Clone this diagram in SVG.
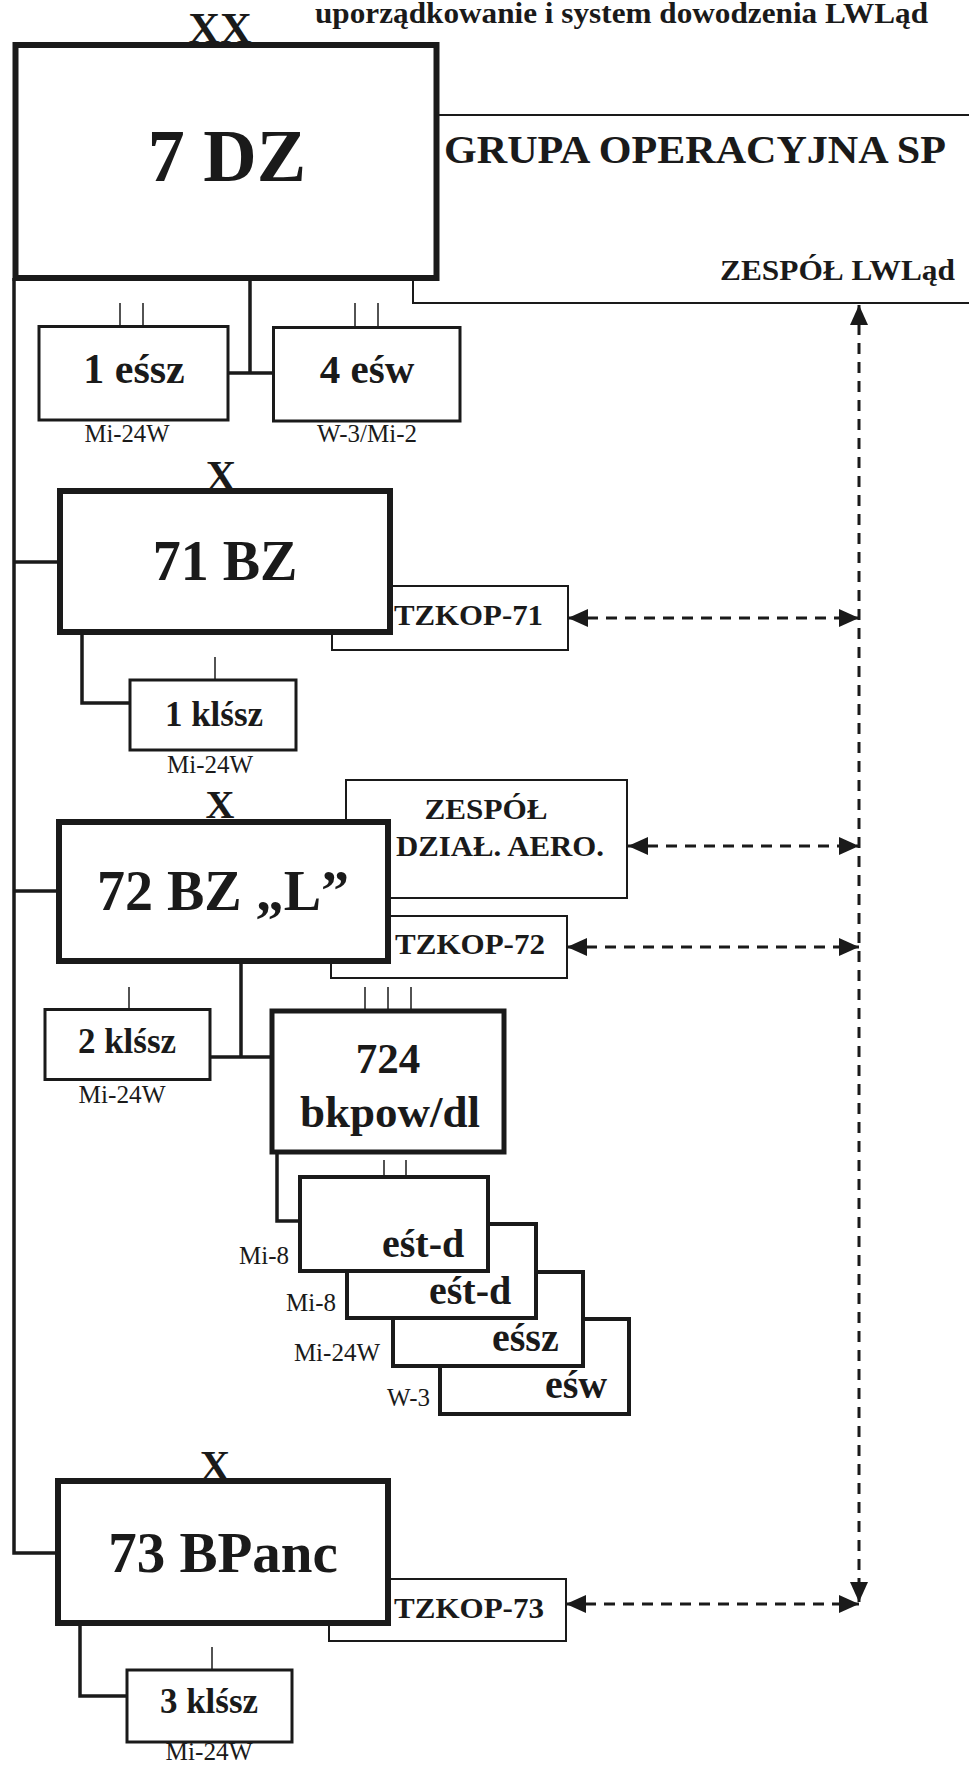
<svg xmlns="http://www.w3.org/2000/svg" width="969" height="1766" viewBox="0 0 969 1766">
<style>
.big{fill:#fff;stroke:#1a1a1a;stroke-width:6}
.box{fill:#fff;stroke:#1a1a1a;stroke-width:3}
.stack{fill:#fff;stroke:#1a1a1a;stroke-width:4}
.tz{fill:#fff;stroke:#1a1a1a;stroke-width:2}
.conn{fill:none;stroke:#1a1a1a;stroke-width:3.5}
.tick{fill:none;stroke:#1a1a1a;stroke-width:1.5}
.dash{fill:none;stroke:#1a1a1a;stroke-width:3;stroke-dasharray:11 8}
text{font-family:"Liberation Serif","Times New Roman",serif;fill:#1a1a1a;font-weight:bold}
.lbl{font-weight:normal;font-size:25px}
.c{text-anchor:middle}
.e{text-anchor:end}
</style>
<defs>
<marker id="ah" markerUnits="userSpaceOnUse" markerWidth="20" markerHeight="20" viewBox="0 0 20 20" refX="20" refY="10" orient="auto-start-reverse">
<path d="M0,1 L20,10 L0,19 Z" fill="#1a1a1a" stroke="none"/>
</marker>
</defs>
<rect width="969" height="1766" fill="#fff"/>
<text x="315" y="23" font-size="29" textLength="613" lengthAdjust="spacingAndGlyphs">uporządkowanie i system dowodzenia LWLąd</text>

<g id="connectors">
<path class="conn" d="M14,278 V1553 H58"/>
<path class="conn" d="M14,562 H60"/>
<path class="conn" d="M14,891 H59"/>
<path class="conn" d="M250,278 V373 M228,373 H273"/>
<path class="conn" d="M82,632 V703 H130"/>
<path class="conn" d="M241,961 V1057 M210,1057 H272"/>
<path class="conn" d="M277,1152 V1221 H300"/>
<path class="conn" d="M80,1623 V1696 H127"/>
<line class="dash" x1="859" y1="305" x2="859" y2="1602" marker-start="url(#ah)" marker-end="url(#ah)"/>
<line class="dash" x1="568" y1="618" x2="859" y2="618" marker-start="url(#ah)" marker-end="url(#ah)"/>
<line class="dash" x1="628" y1="846" x2="859" y2="846" marker-start="url(#ah)" marker-end="url(#ah)"/>
<line class="dash" x1="567" y1="947" x2="859" y2="947" marker-start="url(#ah)" marker-end="url(#ah)"/>
<line class="dash" x1="566" y1="1604" x2="859" y2="1604" marker-start="url(#ah)" marker-end="url(#ah)"/>
</g>

<g id="grupa">
<rect class="tz" x="413" y="115" width="620" height="188"/>
<text x="444" y="163" font-size="40" textLength="502" lengthAdjust="spacingAndGlyphs">GRUPA OPERACYJNA SP</text>
<text x="720" y="280" font-size="29" textLength="235" lengthAdjust="spacingAndGlyphs">ZESPÓŁ LWLąd</text>
</g>

<g id="dz7">
<rect class="big" x="15.5" y="45" width="421" height="233"/>
<text class="c" x="220" y="43" font-size="44">XX</text>
<text class="c" x="227" y="181" font-size="74">7 DZ</text>
</g>

<g id="essz1">
<line class="tick" x1="120" y1="303" x2="120" y2="326"/>
<line class="tick" x1="143" y1="303" x2="143" y2="326"/>
<rect class="box" x="39" y="326.5" width="189" height="93.5"/>
<text class="c" x="134" y="383" font-size="42">1 eśsz</text>
<text class="c lbl" x="127" y="442" textLength="85" lengthAdjust="spacingAndGlyphs">Mi-24W</text>
</g>

<g id="esw4">
<line class="tick" x1="355" y1="303" x2="355" y2="327"/>
<line class="tick" x1="378" y1="303" x2="378" y2="327"/>
<rect class="box" x="273.5" y="327.5" width="186.5" height="93.5"/>
<text class="c" x="367" y="383" font-size="41">4 eśw</text>
<text class="c lbl" x="367" y="442" textLength="100" lengthAdjust="spacingAndGlyphs">W-3/Mi-2</text>
</g>

<g id="tzkop71">
<rect class="tz" x="332" y="586" width="236" height="64"/>
<text x="394" y="625" font-size="30" textLength="149" lengthAdjust="spacingAndGlyphs">TZKOP-71</text>
</g>

<g id="bz71">
<rect class="big" x="60" y="491" width="330" height="141"/>
<text class="c" x="221" y="490" font-size="42">X</text>
<text class="c" x="225" y="580" font-size="56">71 BZ</text>
</g>

<g id="klssz1">
<line class="tick" x1="215" y1="657" x2="215" y2="680"/>
<rect class="box" x="130" y="680" width="166" height="70"/>
<text class="c" x="214" y="726" font-size="35">1 klśsz</text>
<text class="c lbl" x="210" y="773" textLength="86" lengthAdjust="spacingAndGlyphs">Mi-24W</text>
</g>

<g id="zespol-aero">
<rect class="tz" x="346" y="780" width="281" height="118"/>
<text class="c" x="486" y="819" font-size="30" textLength="123" lengthAdjust="spacingAndGlyphs">ZESPÓŁ</text>
<text class="c" x="500" y="856" font-size="30" textLength="208" lengthAdjust="spacingAndGlyphs">DZIAŁ. AERO.</text>
</g>

<g id="tzkop72">
<rect class="tz" x="331" y="916" width="236" height="62"/>
<text x="395" y="954" font-size="30" textLength="150" lengthAdjust="spacingAndGlyphs">TZKOP-72</text>
</g>

<g id="bz72">
<rect class="big" x="59" y="822" width="329" height="139"/>
<text class="c" x="220" y="818" font-size="40">X</text>
<text class="c" x="223" y="910" font-size="56">72 BZ „L”</text>
</g>

<g id="klssz2">
<line class="tick" x1="129" y1="987" x2="129" y2="1009"/>
<rect class="box" x="45" y="1009.5" width="165" height="70"/>
<text class="c" x="127" y="1053" font-size="35">2 klśsz</text>
<text class="c lbl" x="122" y="1103" textLength="87" lengthAdjust="spacingAndGlyphs">Mi-24W</text>
</g>

<g id="bkpow724">
<line class="tick" x1="365" y1="987" x2="365" y2="1011"/>
<line class="tick" x1="388" y1="987" x2="388" y2="1011"/>
<line class="tick" x1="411" y1="987" x2="411" y2="1011"/>
<rect class="big" x="272" y="1011" width="232" height="141" style="stroke-width:5"/>
<text class="c" x="388" y="1073" font-size="43">724</text>
<text class="c" x="390" y="1127" font-size="45">bkpow/dl</text>
</g>

<g id="esw-w3">
<rect class="stack" x="440" y="1319" width="189" height="95"/>
<text x="545" y="1398" font-size="40">eśw</text>
<text class="e lbl" x="430" y="1406">W-3</text>
</g>

<g id="essz-mi24">
<rect class="stack" x="393" y="1272" width="190" height="94"/>
<text x="492" y="1351" font-size="40">eśsz</text>
<text class="e lbl" x="380" y="1361">Mi-24W</text>
</g>

<g id="estd2">
<rect class="stack" x="347" y="1224" width="189" height="94"/>
<text x="429" y="1304" font-size="40">eśt-d</text>
<text class="e lbl" x="336" y="1311">Mi-8</text>
</g>

<g id="estd1">
<line class="tick" x1="384" y1="1160" x2="384" y2="1177"/>
<line class="tick" x1="406" y1="1160" x2="406" y2="1177"/>
<rect class="stack" x="300" y="1177" width="188" height="94"/>
<text x="382" y="1257" font-size="40">eśt-d</text>
<text class="e lbl" x="289" y="1264">Mi-8</text>
</g>

<g id="tzkop73">
<rect class="tz" x="329" y="1579" width="237" height="62"/>
<text x="394" y="1618" font-size="30" textLength="150" lengthAdjust="spacingAndGlyphs">TZKOP-73</text>
</g>

<g id="bpanc73">
<rect class="big" x="58" y="1481" width="330" height="142"/>
<text class="c" x="215" y="1480" font-size="42">X</text>
<text class="c" x="223" y="1572" font-size="57">73 BPanc</text>
</g>

<g id="klssz3">
<line class="tick" x1="212" y1="1647" x2="212" y2="1670"/>
<rect class="box" x="127" y="1670" width="165" height="72"/>
<text class="c" x="209" y="1713" font-size="35">3 klśsz</text>
<text class="c lbl" x="209" y="1760" textLength="87" lengthAdjust="spacingAndGlyphs">Mi-24W</text>
</g>
</svg>
